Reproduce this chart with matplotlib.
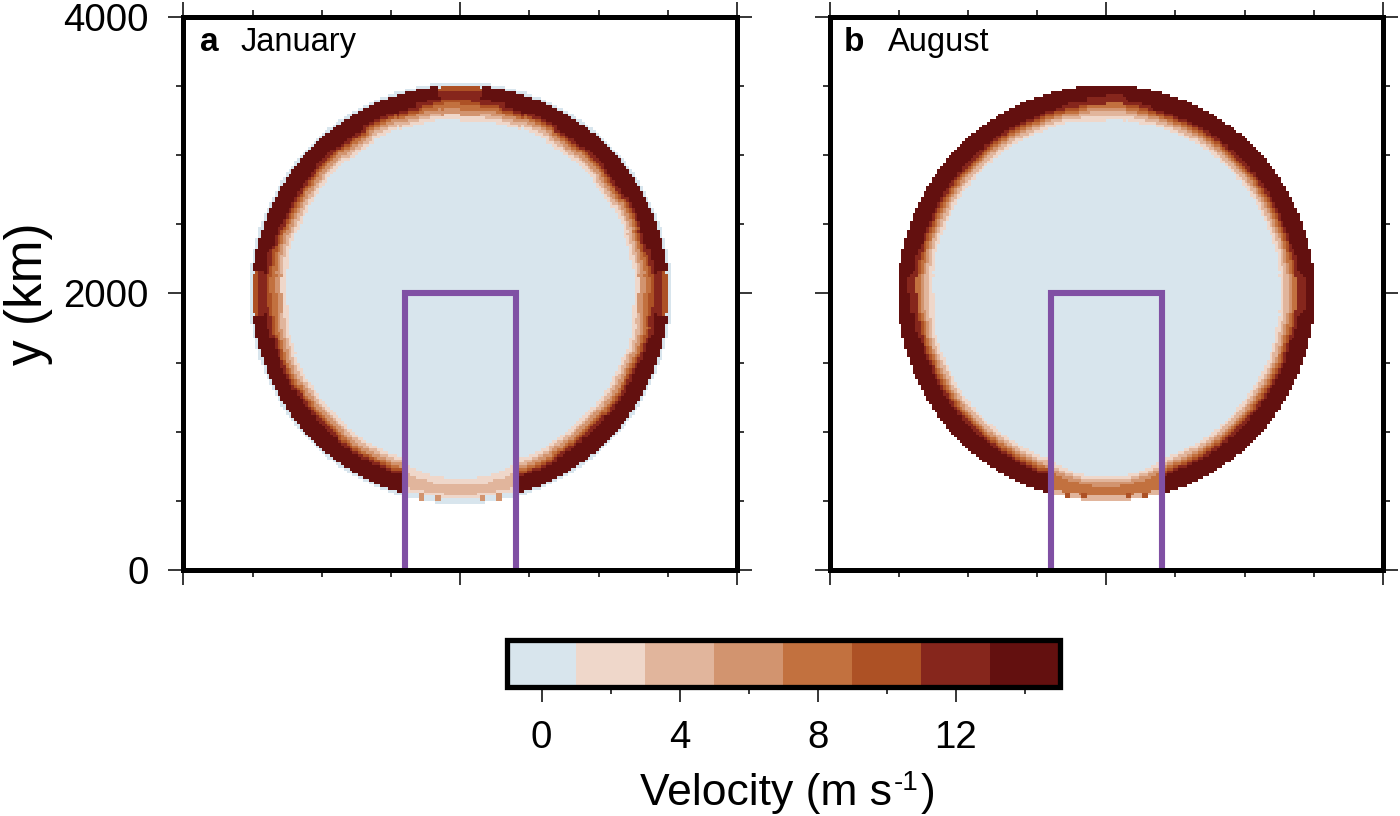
import matplotlib
matplotlib.use('Agg')
import matplotlib.pyplot as plt
import numpy as np
from matplotlib.colors import ListedColormap, BoundaryNorm
from matplotlib.cm import ScalarMappable
from matplotlib.ticker import MultipleLocator

plt.rcParams['font.family'] = ['Liberation Sans', 'DejaVu Sans']

# colour classes of the velocity scale
vel_bounds = [-1, 1, 3, 5, 7, 9, 11, 13, 15]
vel_colors = ['#d8e5ed', '#efd7ca', '#e1b59c', '#d2946f',
              '#c2713f', '#ad5125', '#86261c', '#63100f']

panels = ['a', 'b']
months = ['January', 'August']

# radial profiles of the ring (outer radius km of each class)
ring_v = [0, 2, 4, 6, 8, 10, 12, 14, 0]
jan_main = [1265, 1290, 1312, 1335, 1352, 1368, 1388, 1505, 1525]
jan_side = [1262, 1290, 1315, 1340, 1365, 1385, 1415, 1505, 1525]
jan_core_r = [1258, 1295, 1335, 1375, 1400, 1470, 1497, 1525]
jan_core_v = [0, 2, 6, 8, 10, 12, 10, 0]

aug_v = [0, 2, 4, 6, 8, 10, 12, 14]
aug_main = [1265, 1288, 1310, 1328, 1345, 1362, 1380, 1505]
aug_side = [1260, 1287, 1310, 1330, 1350, 1370, 1400, 1505]
aug_core_r = [1255, 1290, 1320, 1350, 1375, 1435, 1505]
aug_core_v = [0, 2, 4, 6, 8, 12, 14]

# same thing inside the gap at the bottom of the ring
jan_gap_r = [1336, 1386, 1455, 1480, 1520]
jan_gap_v = [0, 2, 4, 2, 0]
aug_gap_r = [1321, 1343, 1365, 1393, 1465, 1500]
aug_gap_v = [0, 2, 4, 6, 8, 4]

# how far the inner edge moves toward the box sides, per 40 km column
gap_shift = [0, 0, 0, 0, 2, 8, 15, 20, 30, 38]

# wobble of the ring every 10 degrees, counter clockwise from east (km)
jan_wobble = [0, 8, -6, 12, 0, 10, -8, 6, 8, 0, 6, -8, 12, 0, 6, 8, -6, 0,
              6, 0, -8, 6, 12, 0, 6, 12, 0, 8, 0, -6, 6, 12, 0, 6, -8, 6]
aug_wobble = [0, 0, 5, 0, 5, 0, 5, 5, 0, 5, 0, 5, 0, 5, 0, 5, 0, 0,
              5, 0, 5, 0, 5, 5, 0, 5, 0, 5, 0, 5, 0, 5, 5, 0, 5, 0]

# darker blobs along the outer edge of the gap (x km, y km, class)
jan_spots = [(1726, 530, 6), (1834, 525, 6), (2159, 525, 6), (2275, 530, 6)]
aug_spots = [(1726, 545, 10), (1834, 535, 10), (2159, 535, 10), (2275, 545, 10)]

wobbles = [jan_wobble, aug_wobble]
ring_tables = [
    ((jan_main, ring_v), (jan_side, ring_v), (jan_core_r, jan_core_v)),
    ((aug_main, aug_v), (aug_side, aug_v), (aug_core_r, aug_core_v)),
]
gap_tables = [(jan_gap_r, jan_gap_v), (aug_gap_r, aug_gap_v)]
spot_tables = [jan_spots, aug_spots]

box_x = [1600, 1600, 2400, 2400]
box_y = [0, 2000, 2000, 0]

W, H = 1400, 816
cell = 20
edges = np.arange(0, 4001, cell)
centers = edges[:-1] + cell / 2

cmap = ListedColormap(vel_colors)
norm = BoundaryNorm(vel_bounds, cmap.N)


def lookup(r, radii, values):
    table = np.array(list(values) + [np.nan])
    return table[np.searchsorted(radii, r)]


def build_field(wobble, ring, gap, spots):
    x, y = np.meshgrid(centers, centers)
    dx, dy = x - 2000, y - 2000
    r = np.hypot(dx, dy)
    theta = np.degrees(np.arctan2(dy, dx)) % 360
    shift = np.array(wobble)[(theta // 10).astype(int)]
    r_ring = np.where(r < 1450, r + shift, r)

    # the ring is weaker close to north, east, south and west
    off_axis = np.abs((theta + 45) % 90 - 45)
    z = lookup(r_ring, *ring[0])
    z = np.where(off_axis < 13, lookup(r_ring, *ring[1]), z)
    z = np.where(off_axis < 6, lookup(r_ring, *ring[2]), z)

    # gap in the ring under the box
    in_gap = (np.abs(dx) < 400) & (dy < 0)
    col = (np.abs(dx) // 40).astype(int).clip(0, len(gap_shift) - 1)
    r_gap = np.where(r < 1400, r + np.array(gap_shift)[col], r)
    z = np.where(in_gap, lookup(r_gap, *gap), z)

    for sx, sy, val in spots:
        z[(np.abs(x - sx) < 22) & (np.abs(y - sy) < 22)] = val
    return z


fig = plt.figure(figsize=(W / 100, H / 100), dpi=100)

lefts = [183.5, 829.5]
for k in range(2):
    ax = fig.add_axes([lefts[k] / W, (H - 570.2) / H, 553.5 / W, 553.5 / H])
    z = build_field(wobbles[k], ring_tables[k], gap_tables[k], spot_tables[k])
    ax.pcolormesh(edges, edges, z, cmap=cmap, norm=norm)
    ax.plot(box_x, box_y, color='#8050a4', lw=4.4, solid_joinstyle='miter')
    ax.set_xlim(0, 4000)
    ax.set_ylim(0, 4000)
    ax.xaxis.set_major_locator(MultipleLocator(2000))
    ax.xaxis.set_minor_locator(MultipleLocator(500))
    ax.yaxis.set_major_locator(MultipleLocator(2000))
    ax.yaxis.set_minor_locator(MultipleLocator(500))
    ax.tick_params(which='major', direction='out', length=11, width=1.1,
                   top=True, right=True, labelbottom=False, labelleft=k == 0,
                   labelsize=27.7, pad=14)
    ax.tick_params(which='minor', direction='out', length=5, width=1.1,
                   top=True, right=True)
    for s in ax.spines.values():
        s.set_linewidth(3.6)
        s.set_zorder(5)
    ax.text(100 if k else 116, 3812, panels[k], fontsize=24, fontweight='bold', va='center')
    ax.text(425 if k else 415, 3812, months[k], fontsize=23.5, va='center')

fig.text(29 / W, 1 - 294 / H, 'y (km)', fontsize=37, rotation=90, ha='center', va='center')

# colorbar
cax = fig.add_axes([507 / W, (H - 686.5) / H, 552.5 / W, 47 / H])
sm = ScalarMappable(norm=norm, cmap=cmap)
cb = fig.colorbar(sm, cax=cax, orientation='horizontal', spacing='proportional',
                  drawedges=False)
cb.set_ticks([0, 4, 8, 12])
cb.set_ticks([2, 6, 10, 14], minor=True)
cb.set_ticklabels(['0', '4', '8', '12'])
cb.ax.tick_params(which='major', length=11, width=1.1, labelsize=27.7, pad=13)
cb.ax.tick_params(which='minor', length=5, width=1.1)
cb.outline.set_linewidth(3.8)

# colorbar label in three pieces, the exponent has a plain hyphen
rend = fig.canvas.get_renderer()
px = 640
for part, size, base in [('Velocity (m s', 32, 805), ('-1', 20, 790), (')', 32, 805)]:
    t = fig.text(px / W, 1 - base / H, part, fontsize=size, va='baseline', ha='left')
    px = t.get_window_extent(rend).x1 + 2

fig.savefig('out.png', dpi=100)
